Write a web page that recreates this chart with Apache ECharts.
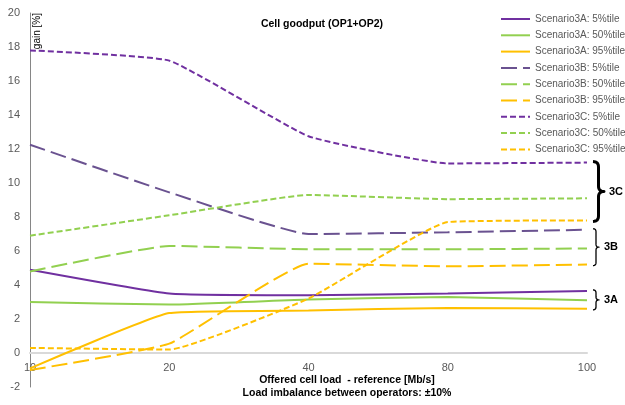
<!DOCTYPE html>
<html><head><meta charset="utf-8">
<script src="https://cdn.jsdelivr.net/npm/echarts@6/dist/echarts.min.js"></script>
<style>html,body{margin:0;padding:0;background:#fff}#c{width:625px;height:405px}</style>
</head><body><div id="c"></div>
<script>
const categories = ['10', '20', '40', '80', '100'];
const yTicks = {min: -2, max: 20, interval: 2};
const s3A_5  = [4.9, 3.5, 3.4, 3.5, 3.65];
const s3A_50 = [3.0, 2.85, 3.15, 3.3, 3.1];
const s3A_95 = [-0.9, 2.35, 2.5, 2.65, 2.6];
const s3B_5  = [12.25, 9.45, 7.0, 7.1, 7.25];
const s3B_50 = [4.8, 6.3, 6.1, 6.1, 6.15];
const s3B_95 = [-1.0, 0.55, 5.25, 5.1, 5.2];
const s3C_5  = [17.8, 17.2, 12.75, 11.15, 11.2];
const s3C_50 = [6.9, 8.1, 9.3, 9.05, 9.1];
const s3C_95 = [0.3, 0.2, 3.2, 7.7, 7.8];
const names = ['Scenario3A: 5%tile','Scenario3A: 50%tile','Scenario3A: 95%tile',
  'Scenario3B: 5%tile','Scenario3B: 50%tile','Scenario3B: 95%tile',
  'Scenario3C: 5%tile','Scenario3C: 50%tile','Scenario3C: 95%tile'];
const values = [s3A_5,s3A_50,s3A_95,s3B_5,s3B_50,s3B_95,s3C_5,s3C_50,s3C_95];
const colors = ['#7030A0','#92D050','#FFC000','#6A5290','#92D050','#FFC000','#7030A0','#92D050','#FFC000'];
const dashes = ['solid','solid','solid',[16,6],[16,6],[16,6],[6,3],[6,3],[6,3]];
const FONT = 'Liberation Sans';

const chart = echarts.init(document.getElementById('c'));
const series = names.map((n,i)=>({
  name:n, type:'line', data:values[i], symbol:'none', smooth:0.12,
  lineStyle:{color:colors[i], width:2, type:dashes[i]}, itemStyle:{color:colors[i]}
}));
const GRID = {left:30,right:38,top:13,bottom:18};
chart.setOption({
  animation:false,
  textStyle:{fontFamily:FONT},
  grid:GRID,
  legend:{orient:'vertical', left:495, top:9, itemWidth:29, itemHeight:11, itemGap:6.3,
    itemStyle:{opacity:0},
    textStyle:{color:'#595959', fontSize:10, fontFamily:FONT}, data:names},
  xAxis:{type:'category', data:categories, boundaryGap:false,
    axisLine:{onZero:false, lineStyle:{color:'#D9D9D9', width:2}}, axisTick:{show:false},
    axisLabel:{color:'#595959', fontSize:11, margin:9}},
  yAxis:{type:'value', min:yTicks.min, max:yTicks.max, interval:yTicks.interval,
    axisLine:{show:true, lineStyle:{color:'#868686'}}, axisTick:{show:false}, splitLine:{show:false},
    axisLabel:{color:'#595959', fontSize:11, margin:10}},
  series:series
});
// place the x axis (line + labels) at y = 0
const zeroPx = chart.convertToPixel({yAxisIndex:0}, 0);
const bottomPx = chart.convertToPixel({yAxisIndex:0}, yTicks.min);
chart.setOption({xAxis:{offset: zeroPx - bottomPx}});

function quad(p0,p1,p2,n,out){
  for(let i=1;i<=n;i++){const t=i/n,a=(1-t)*(1-t),b=2*(1-t)*t,c=t*t;
    out.push([a*p0[0]+b*p1[0]+c*p2[0], a*p0[1]+b*p1[1]+c*p2[1]]);}
}
function brace(x, y1, y2, w){
  const xm=x+w/2, ym=(y1+y2)/2, r=Math.min(w/2,(y2-y1)/4);
  const pts=[[x,y1]];
  quad([x,y1],[xm,y1],[xm,y1+r],8,pts);
  pts.push([xm,ym-r]);
  quad([xm,ym-r],[xm,ym],[x+w,ym],8,pts);
  quad([x+w,ym],[xm,ym],[xm,ym+r],8,pts);
  pts.push([xm,y2-r]);
  quad([xm,y2-r],[xm,y2],[x,y2],8,pts);
  return pts;
}
const last = categories[categories.length-1];
function px(v){ return chart.convertToPixel({gridIndex:0},[last,v]); }
const groups = [
  {label:'3C', top:s3C_5[4], bot:s3C_95[4], w:3, wid:11},
  {label:'3B', top:s3B_5[4], bot:s3B_95[4], w:1.3, wid:6},
  {label:'3A', top:s3A_5[4], bot:s3A_95[4], w:1.3, wid:6}
];
const g = [];
groups.forEach(gr=>{
  const p1=px(gr.top), p2=px(gr.bot);
  const x=p1[0]+6, y1=p1[1]-1, y2=p2[1]+1;
  g.push({type:'polyline', shape:{points:brace(x,y1,y2,gr.wid)}, style:{fill:null, stroke:'#000', lineWidth:gr.w, lineJoin:'round'}});
  g.push({type:'text', x:x+gr.wid+5, y:(y1+y2)/2, style:{text:gr.label, fill:'#000', font:`bold 11px ${FONT}`, textAlign:'left', textVerticalAlign:'middle'}});
});
g.push({type:'text', x:322, y:24, style:{text:'Cell goodput (OP1+OP2)', fill:'#000', font:`bold 10.5px ${FONT}`, textAlign:'center', textVerticalAlign:'middle'}});
g.push({type:'text', x:347, y:380, style:{text:'Offered cell load  - reference [Mb/s]', fill:'#000', font:`bold 10.5px ${FONT}`, textAlign:'center', textVerticalAlign:'middle'}});
g.push({type:'text', x:347, y:393, style:{text:'Load imbalance between operators: \u00b110%', fill:'#000', font:`bold 10.5px ${FONT}`, textAlign:'center', textVerticalAlign:'middle'}});
g.push({type:'text', x:37, y:13, rotation:Math.PI/2, style:{text:'gain [%]', fill:'#000', font:`10px ${FONT}`, textAlign:'right', textVerticalAlign:'middle'}});
chart.setOption({graphic:g});
</script></body></html>
